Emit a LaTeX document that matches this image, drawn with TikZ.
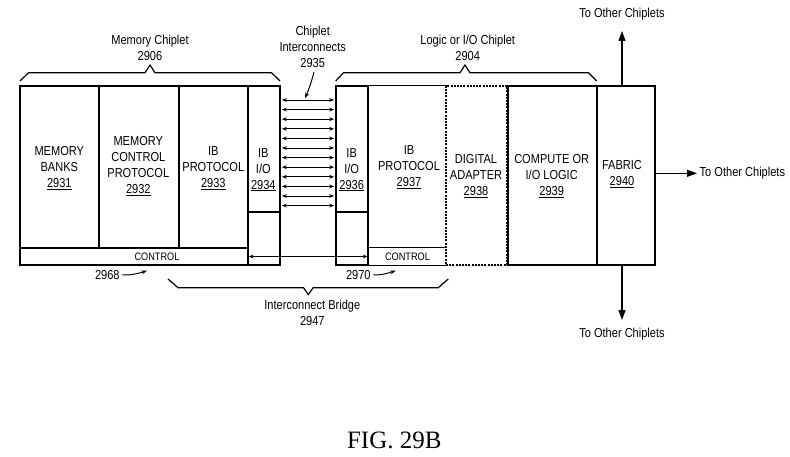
\documentclass[tikz,border=0pt]{standalone}
\usepackage{fontspec}
\setmainfont{Liberation Sans}[FakeStretch=0.85]
\newfontfamily\figfont{Liberation Serif}
\usetikzlibrary{arrows.meta,fit}
\begin{document}
\begin{tikzpicture}[x=1pt,y=-1pt,
  box/.style={draw, inner sep=0pt, line width=1.3pt},
  area/.style={inner sep=0pt},
  dashbox/.style={draw, inner sep=0pt, line width=1.1pt, dash pattern=on 2pt off 1.2pt},
  lbl/.style={align=center, font=\fontsize{13}{16}\selectfont, inner sep=0pt},
  smalllbl/.style={font=\fontsize{10.8}{12}\selectfont, inner sep=0pt},
  biarrow/.style={{Stealth[length=5pt,width=3.8pt]}-{Stealth[length=5pt,width=3.8pt]}, line width=0.9pt},
  bigarrow/.style={-{Triangle[length=10pt,width=7pt]}, line width=1.2pt},
  ptr/.style={-{Stealth[length=6pt,width=4pt]}, line width=1pt},
  brace/.style={line width=1.2pt, line join=miter}
]
\useasboundingbox (0,0) rectangle (790,457);

% ---------- Memory chiplet ----------
\node[box, fit={(20,86) (99,248)}] (mb) {};
\node[box, fit={(99,86) (179,248)}] (mcp) {};
\node[box, fit={(179,86) (248,248)}] (ibp1) {};
\node[box, fit={(248,86) (280,212)}] (io1) {};
\node[box, fit={(248,212) (280,265)}] (io1low) {};
\node[box, fit={(20,248) (248,265)}] (ctl1) {};

% ---------- Logic or I/O chiplet ----------
\node[box, fit={(336,86) (368,212)}] (io2) {};
\node[box, fit={(336,212) (368,265)}] (io2low) {};
\node[area, fit={(368,86) (446,248)}] (ibp2) {};
\node[area, fit={(368,248) (446,265)}] (ctl2) {};
\draw[line width=1.3pt] (ibp2.north east) -- (ibp2.north west) -- (ctl2.south west) -- (ctl2.south east);
\draw[line width=1.3pt] (ctl2.north west) -- (ctl2.north east);
\node[dashbox, fit={(446,86) (507,265)}] (da) {};
\node[box, fit={(508,86) (597,265)}] (cmp) {};
\node[box, fit={(597,86) (655,265)}] (fab) {};

% ---------- box texts ----------
\node[lbl] (tmb) at (59.3,168.5) {MEMORY\\BANKS\\\underline{2931}};
\node[lbl] (tmcp) at (138.3,165.8) {MEMORY\\CONTROL\\PROTOCOL\\\underline{2932}};
\node[lbl] (tibp1) at (213.3,168.3) {IB\\PROTOCOL\\\underline{2933}};
\node[lbl] (tio1) at (263.3,169.6) {IB\\I/O\\\underline{2934}};
\node[lbl] (tio2) at (351.7,169.6) {IB\\I/O\\\underline{2936}};
\node[lbl] (tibp2) at (409,166.8) {IB\\PROTOCOL\\\underline{2937}};
\node[lbl] (tda) at (476,175.8) {DIGITAL\\ADAPTER\\\underline{2938}};
\node[lbl] (tcmp) at (551.7,175.8) {COMPUTE OR\\I/O LOGIC\\\underline{2939}};
\node[lbl] (tfab) at (622,174) {FABRIC\\\underline{2940}};
\node[smalllbl] (tctl1) at (157,256.5) {CONTROL};
\node[smalllbl] (tctl2) at (407.5,256.5) {CONTROL};

% ---------- chiplet interconnects ----------
\foreach \i in {0,...,11}{
  \coordinate (r\i) at (0,{100+9.6*\i});
  \draw[biarrow, shorten <=1.2pt, shorten >=1.2pt] (io1.east |- r\i) -- (io2.west |- r\i);
}
\draw[biarrow] (ctl1.east) -- (ctl2.west);

% ---------- braces ----------
\draw[brace] (20,81) -- (28.5,72.7) -- (145,72.7) -- (150,65) -- (155,72.7) -- (271.5,72.7) -- (280,81);
\draw[brace] (335.7,81) -- (343.5,72.7) -- (460,72.7) -- (465,65) -- (470,72.7) -- (588.5,72.7) -- (596.7,81);
\draw[brace] (168,279) -- (178,287.7) -- (303.5,287.7) -- (308.3,294.5) -- (313.2,287.7) -- (438.3,287.7) -- (448.3,279);

% ---------- labels ----------
\node[lbl] (lmem) at (150,48.3) {Memory Chiplet\\2906};
\node[lbl] (llog) at (467.7,48) {Logic or I/O Chiplet\\2904};
\node[lbl] (lci) at (312.7,47.3) {Chiplet\\Interconnects\\2935};
\node[lbl] (lib) at (312.3,312.5) {Interconnect Bridge\\2947};
\node[lbl] (l2968) at (107.3,275) {2968};
\node[lbl] (l2970) at (358.3,275) {2970};

\coordinate (ciEnd) at (305,98.5);
\coordinate (ciStart) at (314,72);
\draw[ptr] (ciStart) .. controls (311.5,82) and (308.5,90) .. (ciEnd);

\coordinate (e2968) at (147.3,270.5);
\draw[ptr] ([xshift=2.5pt]l2968.east) .. controls (132,275.3) and (140,273) .. (e2968);
\coordinate (e2970) at (396,270.5);
\draw[ptr] ([xshift=2.5pt]l2970.east) .. controls (381,275.3) and (389,273) .. (e2970);

% ---------- to other chiplets ----------
\node[lbl] (totop) at (622,14.5) {To Other Chiplets};
\node[lbl] (tobot) at (622,334.5) {To Other Chiplets};
\node[lbl, anchor=west] (toright) at (699.5,173.3) {To Other Chiplets};
\coordinate (upEnd) at (622,31);
\coordinate (dnEnd) at (622,320);
\draw[bigarrow] (fab.north -| totop) -- (upEnd);
\draw[bigarrow] (fab.south -| tobot) -- (dnEnd);
\draw[bigarrow, shorten >=2.5pt] (fab.east |- toright.west) -- (toright.west);

% ---------- figure caption ----------
\node[inner sep=0pt, font=\figfont\fontsize{25}{28}\selectfont] (fig) at (394.3,440.8) {FIG. 29B};
\end{tikzpicture}
\end{document}
